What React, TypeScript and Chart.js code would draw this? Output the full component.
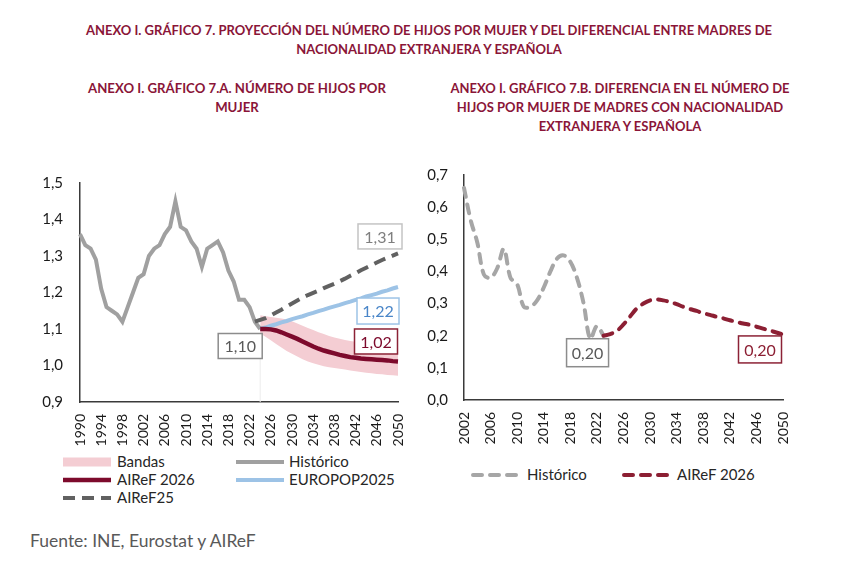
import { useEffect, useRef } from 'react'
import { Chart, registerables } from 'chart.js'

Chart.register(...registerables)

// ---- data: gráfico 7.A (hijos por mujer) ----
const yearsA = Array.from({ length: 61 }, (_, i) => String(1990 + i))

const historicoA = [
  1.36, 1.33, 1.32, 1.29, 1.21, 1.16, 1.15, 1.14, 1.12, 1.16,
  1.20, 1.24, 1.25, 1.30, 1.32, 1.33, 1.36, 1.38, 1.45, 1.38,
  1.37, 1.34, 1.32, 1.27, 1.32, 1.33, 1.34, 1.31, 1.26, 1.23,
  1.18, 1.18, 1.16, 1.12, 1.10
] // 1990-2024

const aireF25 = [
  1.12, 1.125, 1.13, 1.137, 1.145, 1.153, 1.162, 1.17, 1.178, 1.186,
  1.193, 1.199, 1.205, 1.212, 1.218, 1.224, 1.231, 1.238, 1.246, 1.253,
  1.261, 1.268, 1.275, 1.282, 1.289, 1.295, 1.301, 1.307
] // 2023-2050

const europop2025 = [
  1.100, 1.104, 1.109, 1.113, 1.118, 1.122, 1.127, 1.131, 1.135, 1.140,
  1.144, 1.149, 1.153, 1.158, 1.162, 1.166, 1.171, 1.175, 1.180, 1.184,
  1.189, 1.193, 1.197, 1.202, 1.206, 1.211, 1.215
] // 2024-2050

const aireF2026A = [
  1.100, 1.100, 1.099, 1.096, 1.091, 1.085, 1.079, 1.073, 1.066, 1.059,
  1.052, 1.046, 1.041, 1.037, 1.033, 1.029, 1.026, 1.023, 1.021, 1.019,
  1.018, 1.017, 1.016, 1.015, 1.014, 1.012, 1.011
] // 2024-2050

const bandaAlta = [
  1.138, 1.135, 1.133, 1.131, 1.129, 1.126, 1.121, 1.115, 1.109, 1.103,
  1.097, 1.091, 1.086, 1.081, 1.077, 1.073, 1.070, 1.067, 1.065, 1.063,
  1.062, 1.061, 1.060, 1.059, 1.058, 1.057, 1.057
] // 2024-2050

const bandaBaja = [
  1.088, 1.079, 1.069, 1.059, 1.049, 1.040, 1.032, 1.025, 1.017, 1.011,
  1.006, 1.002, 0.998, 0.995, 0.993, 0.991, 0.989, 0.986, 0.984, 0.982,
  0.980, 0.979, 0.977, 0.976, 0.974, 0.973, 0.972
] // 2024-2050

// ---- data: gráfico 7.B (diferencia extranjera - española) ----
const yearsB = Array.from({ length: 49 }, (_, i) => String(2002 + i))

const historicoB = [
  0.66, 0.56, 0.49, 0.39, 0.38, 0.41, 0.47, 0.38, 0.36, 0.29,
  0.29, 0.31, 0.35, 0.40, 0.44, 0.45, 0.43, 0.38, 0.30, 0.19,
  0.23, 0.20
] // 2002-2023

const aireF2026B = [
  0.200, 0.205, 0.215, 0.235, 0.260, 0.285, 0.300, 0.310, 0.313, 0.310,
  0.305, 0.298, 0.290, 0.283, 0.277, 0.270, 0.265, 0.259, 0.254, 0.248,
  0.243, 0.238, 0.234, 0.228, 0.222, 0.216, 0.210, 0.204
] // 2023-2050

const pad = (len: number, start: number, vals: number[]) =>
  Array.from({ length: len }, (_, i) => (i >= start && i - start < vals.length ? vals[i - start] : null))

const FONT = 'Lato, "Open Sans", sans-serif'
const RED = '#7d0a2c'
const RED_B = '#8c1f33'
const TITLE_RED = '#8a1538'

type BoxLabel = { ds: number; idx: number; text: string; dx: number; dy: number; w: number; h: number; color: string; border: string }

const boxPlugin = (labels: BoxLabel[]) => ({
  id: 'boxLabels',
  afterDatasetsDraw(chart: any) {
    const ctx = chart.ctx
    ctx.save()
    labels.forEach((l) => {
      const el = chart.getDatasetMeta(l.ds).data[l.idx]
      if (!el) return
      const cx = el.x + l.dx
      const cy = el.y + l.dy
      ctx.fillStyle = '#ffffff'
      ctx.fillRect(cx - l.w / 2, cy - l.h / 2, l.w, l.h)
      ctx.strokeStyle = l.border
      ctx.lineWidth = 1.5
      ctx.strokeRect(cx - l.w / 2, cy - l.h / 2, l.w, l.h)
      ctx.fillStyle = l.color
      ctx.font = `16px ${FONT}`
      ctx.textAlign = 'center'
      ctx.textBaseline = 'middle'
      ctx.fillText(l.text, cx, cy + 1)
    })
    ctx.restore()
  }
})

// faint vertical line at the start of the band
const bandEdgePlugin = {
  id: 'bandEdge',
  beforeDatasetsDraw(chart: any) {
    const meta = chart.getDatasetMeta(5)
    const el = meta.data[34]
    if (!el) return
    const ctx = chart.ctx
    ctx.save()
    ctx.strokeStyle = '#ececec'
    ctx.lineWidth = 1
    ctx.beginPath()
    ctx.moveTo(el.x, el.y)
    ctx.lineTo(el.x, chart.chartArea.bottom)
    ctx.stroke()
    ctx.restore()
  }
}

const fmt = (v: any) => Number(v).toFixed(1).replace('.', ',')

// keep the plot area where the layout padding puts it
const fitX = (s: any) => { s.height = 50; s.paddingLeft = 0; s.paddingRight = 0 }
const fitY = (w: number) => (s: any) => { s.width = w; s.paddingTop = 0; s.paddingBottom = 0 }

function ChartA() {
  const canvasRef = useRef<HTMLCanvasElement>(null)
  useEffect(() => {
    if (!canvasRef.current) return
    const n = yearsA.length
    const chart = new Chart(canvasRef.current, {
      type: 'line',
      data: {
        labels: yearsA,
        datasets: [
          { label: 'AIReF 2026', data: pad(n, 34, aireF2026A), borderColor: RED, borderWidth: 4.5, pointRadius: 0, fill: false },
          { label: 'EUROPOP2025', data: pad(n, 34, europop2025), borderColor: '#9dc3e6', borderWidth: 4, pointRadius: 0, fill: false },
          { label: 'AIReF25', data: pad(n, 33, aireF25), borderColor: '#616161', borderWidth: 4, borderDash: [12, 7], pointRadius: 0, fill: false },
          { label: 'Histórico', data: pad(n, 0, historicoA), borderColor: '#a0a0a0', borderWidth: 4, pointRadius: 0, fill: false },
          { label: 'Bandas', data: pad(n, 34, bandaAlta), borderWidth: 0, borderColor: 'rgba(0,0,0,0)', backgroundColor: '#f4cdd3', pointRadius: 0, fill: '+1' },
          { label: 'BandaBaja', data: pad(n, 34, bandaBaja), borderWidth: 0, borderColor: 'rgba(0,0,0,0)', pointRadius: 0, fill: false }
        ]
      },
      options: {
        animation: false,
        responsive: true,
        maintainAspectRatio: false,
        layout: { autoPadding: false, padding: { top: 13, right: 22, left: 0, bottom: 0 } },
        plugins: { legend: { display: false }, tooltip: { enabled: false } },
        scales: {
          x: {
            grid: { display: false, drawTicks: false },
            border: { display: true, color: '#3a3a3a', width: 1.5 },
            ticks: {
              autoSkip: false,
              maxRotation: 90,
              minRotation: 90,
              padding: 12,
              color: '#1a1a1a',
              font: { family: FONT, size: 14 },
              callback: (_v: any, i: number) => (i % 4 === 0 ? yearsA[i] : '')
            },
            afterFit: fitX
          },
          y: {
            min: 0.9,
            max: 1.5,
            grid: { display: false, drawTicks: false },
            border: { display: true, color: '#3a3a3a', width: 1.5 },
            ticks: { stepSize: 0.1, padding: 17, color: '#1a1a1a', font: { family: FONT, size: 15 }, callback: fmt },
            afterFit: fitY(60)
          }
        }
      },
      plugins: [
        bandEdgePlugin,
        boxPlugin([
          { ds: 3, idx: 34, text: '1,10', dx: -20, dy: 17, w: 44, h: 25, color: '#595959', border: '#8c8c8c' },
          { ds: 2, idx: 60, text: '1,31', dx: -18, dy: -17, w: 44, h: 25, color: '#7f7f7f', border: '#c4c4c4' },
          { ds: 1, idx: 60, text: '1,22', dx: -20, dy: 24, w: 42, h: 26, color: '#4a86c8', border: '#9dc3e6' },
          { ds: 0, idx: 60, text: '1,02', dx: -22, dy: -20, w: 43, h: 25, color: RED, border: '#8c2236' }
        ])
      ]
    } as any)
    return () => chart.destroy()
  }, [])
  return <canvas ref={canvasRef} />
}

function ChartB() {
  const canvasRef = useRef<HTMLCanvasElement>(null)
  useEffect(() => {
    if (!canvasRef.current) return
    const n = yearsB.length
    const chart = new Chart(canvasRef.current, {
      type: 'line',
      data: {
        labels: yearsB,
        datasets: [
          { label: 'AIReF 2026', data: pad(n, 21, aireF2026B), borderColor: RED_B, borderWidth: 4, borderDash: [9, 8], borderCapStyle: 'round', tension: 0.35, pointRadius: 0, fill: false },
          { label: 'Histórico', data: pad(n, 0, historicoB), borderColor: '#a6a6a6', borderWidth: 4, borderDash: [9, 8], borderCapStyle: 'round', tension: 0.35, pointRadius: 0, fill: false }
        ]
      },
      options: {
        animation: false,
        responsive: true,
        maintainAspectRatio: false,
        layout: { autoPadding: false, padding: { top: 10, right: 27, left: 0, bottom: 0 } },
        plugins: { legend: { display: false }, tooltip: { enabled: false } },
        scales: {
          x: {
            grid: { display: false, drawTicks: false },
            border: { display: true, color: '#3a3a3a', width: 1.5 },
            ticks: {
              autoSkip: false,
              maxRotation: 90,
              minRotation: 90,
              padding: 12,
              color: '#1a1a1a',
              font: { family: FONT, size: 14 },
              callback: (_v: any, i: number) => (i % 4 === 0 ? yearsB[i] : '')
            },
            afterFit: fitX
          },
          y: {
            min: 0,
            max: 0.7,
            grid: { display: false, drawTicks: false },
            border: { display: true, color: '#3a3a3a', width: 1.5 },
            ticks: { stepSize: 0.1, padding: 16, color: '#1a1a1a', font: { family: FONT, size: 15 }, callback: fmt },
            afterFit: fitY(64)
          }
        }
      },
      plugins: [
        boxPlugin([
          { ds: 1, idx: 21, text: '0,20', dx: -16, dy: 17, w: 42, h: 28, color: '#595959', border: '#8c8c8c' },
          { ds: 0, idx: 48, text: '0,20', dx: -23, dy: 15, w: 43, h: 27, color: RED_B, border: '#8c2236' }
        ])
      ]
    } as any)
    return () => chart.destroy()
  }, [])
  return <canvas ref={canvasRef} />
}

function Swatch({ color, dash, h = 4, cap = 'butt' }: { color: string; dash?: string; h?: number; cap?: string }) {
  return (
    <svg width={48} height={12} style={{ display: 'block' }}>
      <line x1={cap === 'round' ? 2 : 0} y1={6} x2={cap === 'round' ? 46 : 48} y2={6} stroke={color} strokeWidth={h} strokeDasharray={dash} strokeLinecap={cap as any} />
    </svg>
  )
}

const legendText: React.CSSProperties = { position: 'absolute', fontFamily: FONT, fontSize: 15, color: '#262626', lineHeight: '18px', whiteSpace: 'nowrap' }

function LegendItem({ x, y, tx, label, children }: { x: number; y: number; tx: number; label: string; children: any }) {
  return (
    <>
      <div style={{ position: 'absolute', left: x, top: y - 6 }}>{children}</div>
      <div style={{ ...legendText, left: tx, top: y - 10 }}>{label}</div>
    </>
  )
}

const titleStyle: React.CSSProperties = {
  position: 'absolute',
  fontFamily: FONT,
  fontWeight: 700,
  fontSize: 13,
  lineHeight: '19px',
  color: TITLE_RED,
  textAlign: 'center',
  whiteSpace: 'nowrap'
}

export default function App() {
  return (
    <div style={{ position: 'absolute', left: 0, top: 0, width: 843, height: 574, background: '#fff', overflow: 'hidden' }}>
      <div style={{ ...titleStyle, left: 15, width: 828, top: 21 }}>
        ANEXO I. GRÁFICO 7. PROYECCIÓN DEL NÚMERO DE HIJOS POR MUJER Y DEL DIFERENCIAL ENTRE MADRES DE
        <br />
        NACIONALIDAD EXTRANJERA Y ESPAÑOLA
      </div>
      <div style={{ ...titleStyle, left: 37, width: 400, top: 79, fontSize: 13.2 }}>
        ANEXO I. GRÁFICO 7.A. NÚMERO DE HIJOS POR
        <br />
        MUJER
      </div>
      <div style={{ ...titleStyle, left: 420, width: 400, top: 79 }}>
        ANEXO I. GRÁFICO 7.B. DIFERENCIA EN EL NÚMERO DE
        <br />
        HIJOS POR MUJER DE MADRES CON NACIONALIDAD
        <br />
        EXTRANJERA Y ESPAÑOLA
      </div>

      <div style={{ position: 'absolute', left: 20, top: 170, width: 400, height: 282 }}>
        <ChartA />
      </div>
      <div style={{ position: 'absolute', left: 400, top: 165, width: 410, height: 285 }}>
        <ChartB />
      </div>

      <LegendItem x={63} y={462} tx={117} label="Bandas">
        <Swatch color="#f4cdd3" h={9} />
      </LegendItem>
      <LegendItem x={63} y={480} tx={117} label="AIReF 2026">
        <Swatch color={RED} h={4.5} />
      </LegendItem>
      <LegendItem x={63} y={498} tx={117} label="AIReF25">
        <Swatch color="#616161" h={4} dash="12 7" />
      </LegendItem>
      <LegendItem x={236} y={462} tx={289} label="Histórico">
        <Swatch color="#a0a0a0" h={4} />
      </LegendItem>
      <LegendItem x={236} y={480} tx={289} label="EUROPOP2025">
        <Swatch color="#9dc3e6" h={4} />
      </LegendItem>

      <LegendItem x={471} y={475} tx={527} label="Histórico">
        <Swatch color="#a6a6a6" h={4} dash="9 8" cap="round" />
      </LegendItem>
      <LegendItem x={622} y={475} tx={677} label="AIReF 2026">
        <Swatch color={RED_B} h={4} dash="9 8" cap="round" />
      </LegendItem>

      <div style={{ position: 'absolute', left: 30, top: 531, fontFamily: FONT, fontSize: 17.5, color: '#595959', whiteSpace: 'nowrap', lineHeight: '20px' }}>
        Fuente: INE, Eurostat y AIReF
      </div>
    </div>
  )
}
